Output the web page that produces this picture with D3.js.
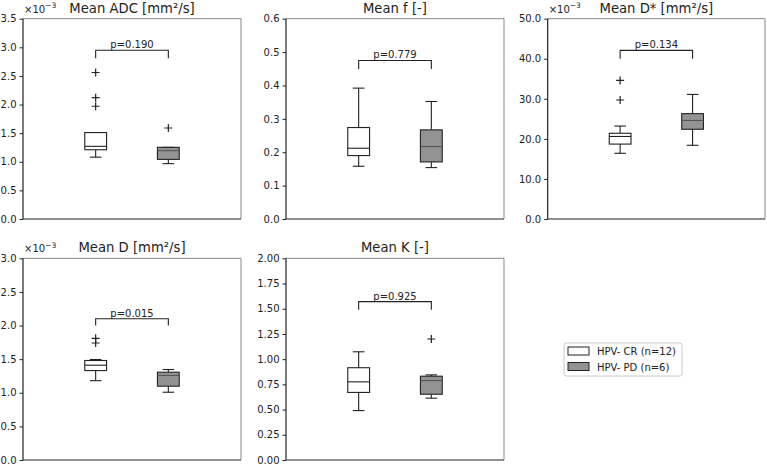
<!DOCTYPE html>
<html><head><meta charset="utf-8">
<script src="https://cdn.jsdelivr.net/npm/d3@7"></script>
<style>body{margin:0;background:#fff}svg{font-family:"DejaVu Sans",sans-serif}</style>
</head><body><svg id="c" width="767" height="465"></svg>
<script>
const groups = ["HPV- CR (n=12)", "HPV- PD (n=6)"];
const titles = ["Mean ADC [mm²/s]", "Mean f [-]", "Mean D* [mm²/s]", "Mean D [mm²/s]", "Mean K [-]"];
const yMax = [3.5, 0.6, 50, 3.0, 2.0];
const yStep = [0.5, 0.1, 10, 0.5, 0.25];
const tickDigits = [1, 1, 1, 1, 2];
const sciLabel = [true, false, true, true, false];
const pValues = ["p=0.190", "p=0.779", "p=0.134", "p=0.015", "p=0.925"];
const bracketY = [2.95, 0.475, 42.1, 2.10, 1.57];
const bracketDrop = [2.81, 0.449, 40.0, 2.00, 1.49];
// [whiskerLow, Q1, median, Q3, whiskerHigh]
const statsCR = [
  [1.08, 1.21, 1.27, 1.51, 1.51],
  [0.158, 0.190, 0.212, 0.274, 0.392],
  [16.4, 18.7, 20.6, 21.4, 23.2],
  [1.18, 1.33, 1.41, 1.48, 1.495],
  [0.49, 0.67, 0.775, 0.915, 1.073]
];
const statsPD = [
  [0.967, 1.042, 1.194, 1.252, 1.252],
  [0.154, 0.171, 0.217, 0.267, 0.352],
  [18.4, 22.4, 24.6, 26.3, 31.1],
  [1.008, 1.098, 1.257, 1.306, 1.346],
  [0.613, 0.652, 0.788, 0.831, 0.844]
];
const outliersCR = [[2.56, 2.12, 1.97], [], [34.6, 29.7], [1.81, 1.74], []];
const outliersPD = [[1.59], [], [], [], [1.20]];

const svg = d3.select("#c");
const rects = [
  {x:23, y:18.7, w:218, h:200.3},
  {x:286, y:18.7, w:218, h:200.3},
  {x:547.7, y:18.7, w:217.3, h:200.3},
  {x:23, y:258.3, w:218, h:201.7},
  {x:286, y:258.3, w:218, h:201.7}
];
const fills = ["#ffffff", "#939393"];
const medCol = ["#222", "#555"];

rects.forEach((r, i) => {
  const g = svg.append("g").attr("transform", `translate(${r.x},${r.y})`);
  const x = d3.scaleLinear().domain([0, 3]).range([0, r.w]);
  const y = d3.scaleLinear().domain([0, yMax[i]]).range([r.h, 0]);
  const ticks = d3.range(0, yMax[i] + yStep[i] / 2, yStep[i]);
  const ax = d3.axisLeft(y).tickValues(ticks).tickSize(3.5).tickPadding(3)
    .tickFormat(d => d.toFixed(tickDigits[i]));
  const ag = g.append("g").call(ax);
  ag.select(".domain").remove();
  ag.selectAll("text").attr("font-size", 10).attr("fill", "#222").attr("font-family", "DejaVu Sans");
  ag.selectAll("line").attr("stroke", "#222");
  // frame
  g.append("line").attr("x1", 0).attr("x2", r.w).attr("y1", 0).attr("y2", 0).attr("stroke", "#888");
  g.append("line").attr("x1", r.w).attr("x2", r.w).attr("y1", 0).attr("y2", r.h).attr("stroke", "#888");
  g.append("line").attr("x1", 0).attr("x2", 0).attr("y1", 0).attr("y2", r.h).attr("stroke", "#222").attr("stroke-width", 1.2);
  g.append("line").attr("x1", 0).attr("x2", r.w).attr("y1", r.h).attr("y2", r.h).attr("stroke", "#222").attr("stroke-width", 1.2);
  // title
  g.append("text").attr("x", r.w / 2).attr("y", -6).attr("text-anchor", "middle")
    .attr("font-size", 13.2).attr("fill", "#222").text(titles[i]);
  if (sciLabel[i]) {
    const t = g.append("text").attr("x", 1).attr("y", -6).attr("font-size", 10).attr("fill", "#222");
    t.append("tspan").text("×10");
    t.append("tspan").attr("dy", -4.5).attr("font-size", 7.5).text("−3");
  }
  // boxes
  const bw = 0.3, cw = 0.15;
  [statsCR[i], statsPD[i]].forEach((s, k) => {
    const cx = k + 1;
    const bg = g.append("g").attr("stroke", "#222").attr("stroke-width", 1.1);
    bg.append("line").attr("x1", x(cx)).attr("x2", x(cx)).attr("y1", y(s[0])).attr("y2", y(s[1]));
    bg.append("line").attr("x1", x(cx)).attr("x2", x(cx)).attr("y1", y(s[3])).attr("y2", y(s[4]));
    bg.append("line").attr("x1", x(cx - cw / 2 - 0.005)).attr("x2", x(cx + cw / 2 + 0.005)).attr("y1", y(s[0])).attr("y2", y(s[0]));
    bg.append("line").attr("x1", x(cx - cw / 2 - 0.005)).attr("x2", x(cx + cw / 2 + 0.005)).attr("y1", y(s[4])).attr("y2", y(s[4]));
    bg.append("rect").attr("x", x(cx - bw / 2)).attr("width", x(bw) - x(0))
      .attr("y", y(s[3])).attr("height", y(s[1]) - y(s[3])).attr("fill", fills[k]);
    g.append("line").attr("x1", x(cx - bw / 2)).attr("x2", x(cx + bw / 2)).attr("y1", y(s[2])).attr("y2", y(s[2]))
      .attr("stroke", medCol[k]).attr("stroke-width", 1.1);
    const outs = k === 0 ? outliersCR[i] : outliersPD[i];
    outs.forEach(v => {
      g.append("path").attr("d", `M${x(cx) - 4},${y(v)}h8M${x(cx)},${y(v) - 4}v8`)
        .attr("stroke", "#222").attr("stroke-width", 1.2);
    });
  });
  // bracket
  g.append("path").attr("d", `M${x(1)},${y(bracketDrop[i])}V${y(bracketY[i])}H${x(2)}V${y(bracketDrop[i])}`)
    .attr("fill", "none").attr("stroke", "#222").attr("stroke-width", 1.1);
  g.append("text").attr("x", x(1.5)).attr("y", y(bracketY[i]) - 2).attr("text-anchor", "middle")
    .attr("font-size", 10).attr("fill", "#222").text(pValues[i]);
});

// legend
const lg = svg.append("g").attr("transform", "translate(564,343)");
lg.append("rect").attr("width", 118).attr("height", 33).attr("rx", 2).attr("fill", "#fff")
  .attr("stroke", "#ccc");
groups.forEach((gname, k) => {
  const yy = 8 + k * 15.5;
  lg.append("rect").attr("x", 4).attr("y", yy - 4.5 + 0.5).attr("width", 21).attr("height", 8)
    .attr("fill", fills[k]).attr("stroke", "#222").attr("stroke-width", 1);
  lg.append("text").attr("x", 33).attr("y", yy + 4).attr("font-size", 10).attr("fill", "#222").text(gname);
});
</script></body></html>
